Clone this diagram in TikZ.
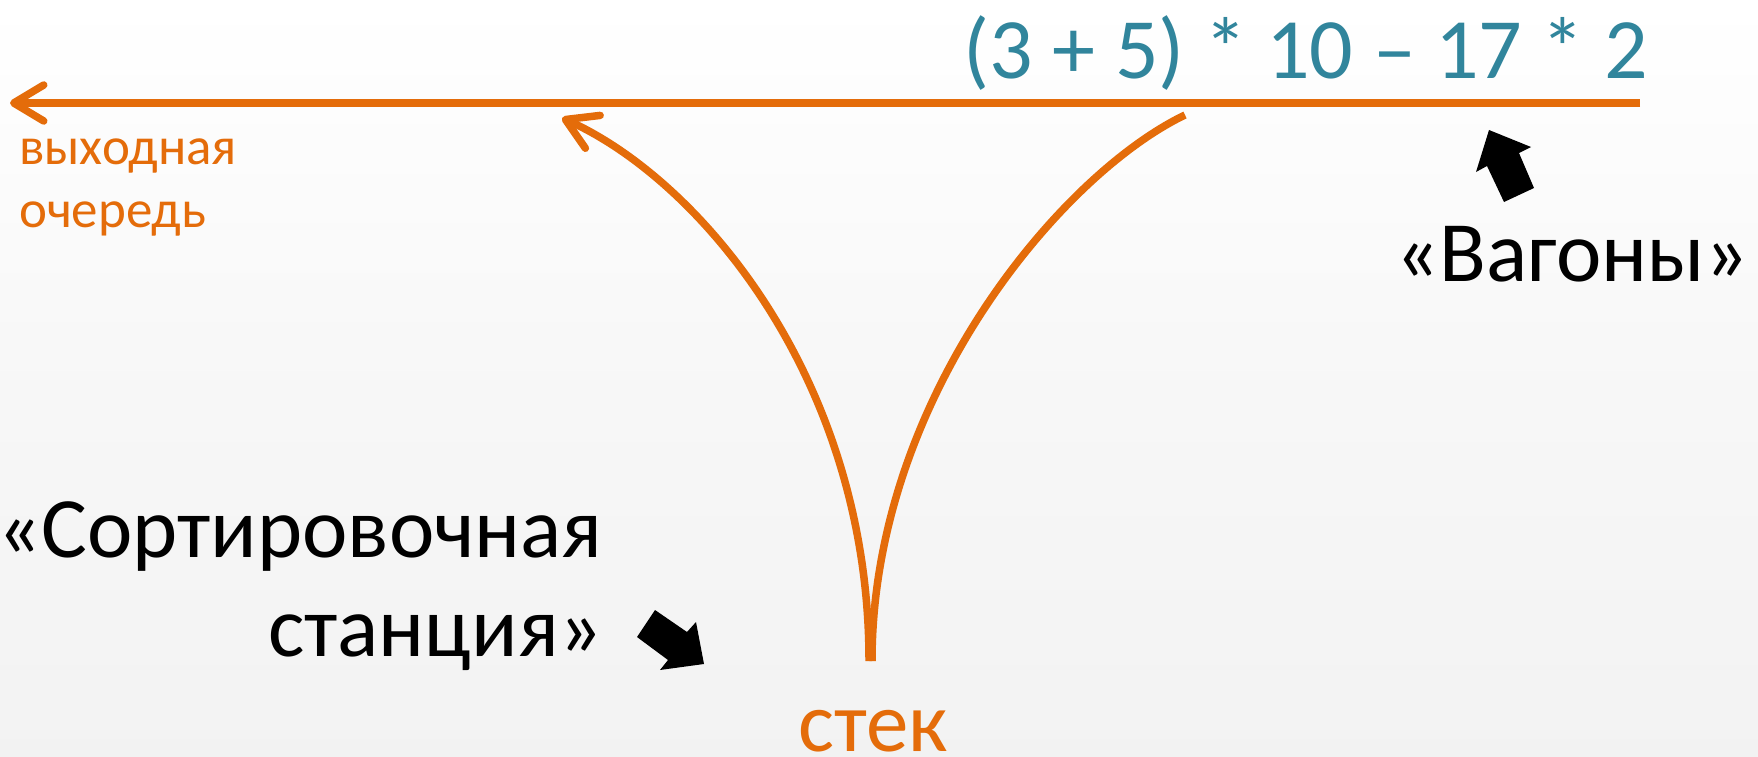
\documentclass[tikz,border=0pt]{standalone}
\usepackage{fontspec}
\setmainfont{Carlito}
\usetikzlibrary{arrows.meta,positioning}
\definecolor{railorange}{HTML}{E46C0A}
\definecolor{exprteal}{HTML}{31859C}

\begin{document}
\begin{tikzpicture}[x=1pt, y=-1pt,
    rail/.style={draw=railorange, line width=7.5pt},
    railarr/.style={rail, -{Straight Barb[length=30pt, width=36pt, round]}},
    lbl/.style={inner sep=0pt},
    bigtxt/.style={lbl, font=\fontsize{86}{99}\selectfont},
    blockarr/.style={fill=black}
]
\shade[top color=white, bottom color=black!5, middle color=white!97!black]
    (0,0) rectangle (1758,757);
\useasboundingbox (0,0) rectangle (1758,757);

% labels
\node[bigtxt, text=exprteal, anchor=base east] (expr) at (1648,79) {(3 + 5) * 10 – 17 * 2};
\node[bigtxt, anchor=base west] (wagons) at (1395,281) {«Вагоны»};
\node[bigtxt, align=right, anchor=base east] (yard) at (603,656) {«Сортировочная\\станция»};
\node[lbl, text=railorange, align=left, anchor=base west,
      font=\fontsize{53}{63}\selectfont] (outq) at (19,227) {выходная\\очередь};
\node[lbl, text=railorange, anchor=base west, font=\fontsize{85}{90}\selectfont] (stack) at (798,751) {стек};

% track points
\coordinate (qin) at (1640,103);
\coordinate (qout) at (10,103);
\coordinate (stemL) at (869,661);
\coordinate (stemR) at (872,661);
\coordinate (popend) at (562,118);
\coordinate (pushstart) at (1185,115);

\draw[railarr] (qin) -- (qout);
\draw[railarr] (stemL) .. controls (869,380) and (700,180) .. (popend);
\draw[rail] (stemR) .. controls (872,400) and (1060,175) .. (pushstart);

% black pointers
\fill[blockarr] (1489,130) -- (1531,147) -- (1519,153) -- (1534,188) -- (1504,202) -- (1487,166) -- (1476,172) -- cycle;
\fill[blockarr] (704,664) -- (696,622) -- (687,632) -- (655,610) -- (637,637) -- (668,660) -- (660,670) -- cycle;
\end{tikzpicture}
\end{document}
